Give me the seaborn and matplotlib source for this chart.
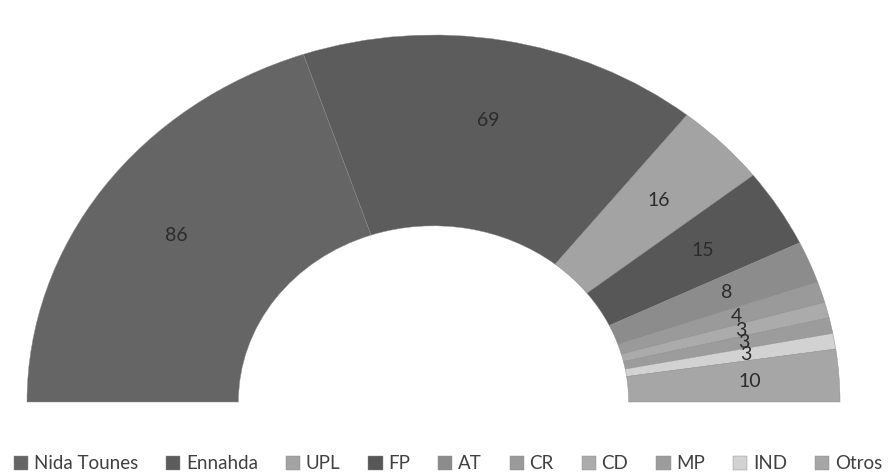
import matplotlib
matplotlib.use("Agg")
import matplotlib.pyplot as plt
import seaborn as sns

# datos: escaños por partido
partidos = ['Nida Tounes', 'Ennahda', 'UPL', 'FP', 'AT', 'CR', 'CD', 'MP', 'IND', 'Otros']
escanos = [86, 69, 16, 15, 8, 4, 3, 3, 3, 10]
colores = ['#656565', '#5c5c5c', '#a3a3a3', '#575757', '#8c8c8c',
           '#9a9a9a', '#ababab', '#9c9c9c', '#d2d2d2', '#a6a6a6']

sns.set_theme(style="white")
plt.rcParams['font.family'] = ['Lato', 'DejaVu Sans']

fig = plt.figure(figsize=(8.96, 4.75), dpi=100)
ax = fig.add_axes([27 / 896, 73 / 475, 813 / 896, 367 / 475])

total = sum(escanos)
# mitad invisible para hacer el semicirculo
valores = escanos + [total]
cols = colores + ['none']

def etiqueta(p):
    v = p * 2 * total / 100
    if v > total - 0.5:
        return ''
    return f"{v:.0f}"

wedges, textos, nums = ax.pie(
    valores, colors=cols, startangle=180, counterclock=False, radius=1,
    wedgeprops=dict(width=0.52, edgecolor='#8a8a8a', linewidth=0.3),
    autopct=etiqueta, pctdistance=0.78,
    textprops=dict(fontsize=14, color='#2b2b2b'),
)
wedges[-1].set_edgecolor('none')

ax.set_aspect('auto')
ax.set_xlim(-1, 1)
ax.set_ylim(0, 1)
ax.axis('off')

handles = wedges[:-1]
fig.legend(handles, partidos, loc='lower center', ncol=10, frameon=False,
           bbox_to_anchor=(0.5, -0.03), fontsize=13.5, handlelength=0.75, handleheight=0.75,
           handletextpad=0.3, columnspacing=1.5, labelcolor='#404040')

plt.savefig('out.png', dpi=100)
